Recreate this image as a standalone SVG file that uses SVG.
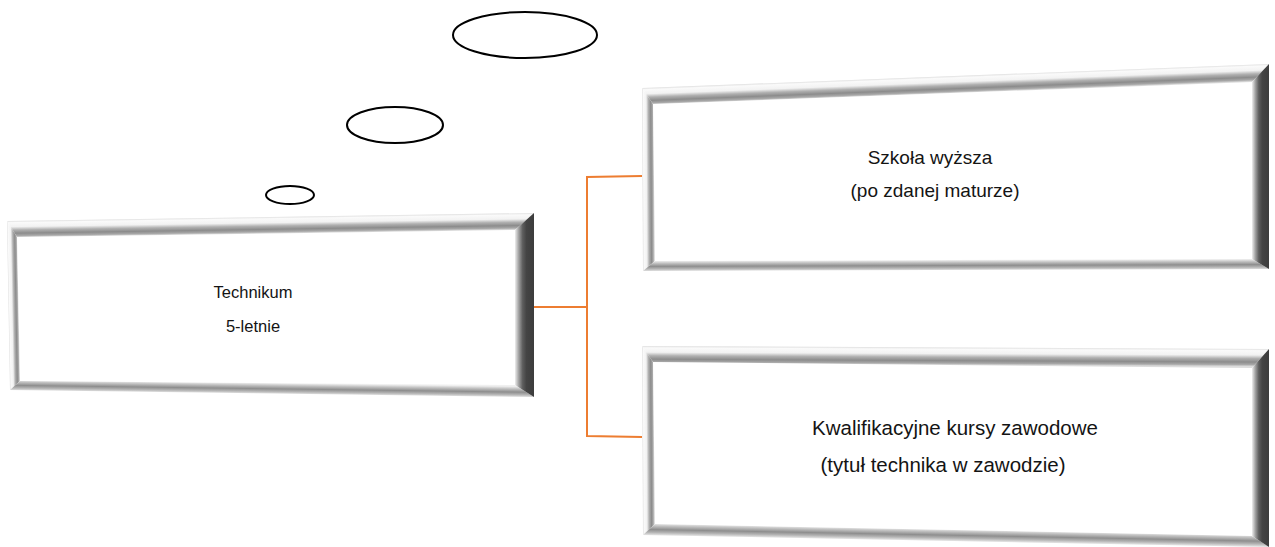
<svg xmlns="http://www.w3.org/2000/svg" xmlns:xlink="http://www.w3.org/1999/xlink" width="1275" height="547" viewBox="0 0 1275 547">
<style>
.lbl{font-family:"Liberation Sans","Noto Sans",Arial,sans-serif;fill:#141414;text-anchor:middle}
.inner{fill:#ffffff}
.conn{fill:none;stroke:#ED7D31;stroke-width:2}
.bubble{fill:#ffffff;stroke:#000000;stroke-width:2}
</style>
<defs>
<linearGradient id="gTL">
<stop offset="0" stop-color="#e0e0e0"/><stop offset="0.1" stop-color="#fafafa"/><stop offset="0.35" stop-color="#f2f2f2"/><stop offset="0.55" stop-color="#b0b0b0"/><stop offset="0.75" stop-color="#8c8c8c"/><stop offset="0.9" stop-color="#a8a8a8"/><stop offset="1" stop-color="#dcdcdc"/>
</linearGradient>
<linearGradient id="gB">
<stop offset="0" stop-color="#dddddd"/><stop offset="0.2" stop-color="#b4b4b4"/><stop offset="0.45" stop-color="#8e8e8e"/><stop offset="0.75" stop-color="#c0c0c0"/><stop offset="1" stop-color="#f0f0f0"/>
</linearGradient>
<linearGradient id="gR">
<stop offset="0" stop-color="#3c3c3c"/><stop offset="0.4" stop-color="#444444"/><stop offset="0.6" stop-color="#5e5e5e"/><stop offset="0.8" stop-color="#a0a0a0"/><stop offset="1" stop-color="#eeeeee"/>
</linearGradient>
<linearGradient id="aT" xlink:href="#gTL" gradientUnits="userSpaceOnUse" x1="270.5" y1="217" x2="270.75" y2="233.4"/>
<linearGradient id="aL" xlink:href="#gTL" gradientUnits="userSpaceOnUse" x1="8.5" y1="305.5" x2="18.44" y2="305.32"/>
<linearGradient id="aR" xlink:href="#gR" gradientUnits="userSpaceOnUse" x1="534" y1="305" x2="515" y2="305"/>
<linearGradient id="aB" xlink:href="#gB" gradientUnits="userSpaceOnUse" x1="272" y1="393.5" x2="272.14" y2="383.06"/>
<linearGradient id="bT" xlink:href="#gTL" gradientUnits="userSpaceOnUse" x1="955.5" y1="76" x2="956.15" y2="92.9"/>
<linearGradient id="bL" xlink:href="#gTL" gradientUnits="userSpaceOnUse" x1="642.5" y1="179.5" x2="653.98" y2="179.44"/>
<linearGradient id="bR" xlink:href="#gR" gradientUnits="userSpaceOnUse" x1="1269" y1="166" x2="1252" y2="166"/>
<linearGradient id="bB" xlink:href="#gB" gradientUnits="userSpaceOnUse" x1="956" y1="270" x2="955.97" y2="260"/>
<linearGradient id="cT" xlink:href="#gTL" gradientUnits="userSpaceOnUse" x1="955.5" y1="347.5" x2="955.42" y2="365"/>
<linearGradient id="cL" xlink:href="#gTL" gradientUnits="userSpaceOnUse" x1="642.5" y1="440.5" x2="654" y2="440.44"/>
<linearGradient id="cR" xlink:href="#gR" gradientUnits="userSpaceOnUse" x1="1269" y1="446" x2="1252" y2="446"/>
<linearGradient id="cB" xlink:href="#gB" gradientUnits="userSpaceOnUse" x1="956" y1="540.5" x2="956.22" y2="529"/>
</defs>
<rect width="1275" height="547" fill="#ffffff"/>

<g id="bubbles">
<ellipse class="bubble" cx="525" cy="35" rx="72" ry="23"/>
<ellipse class="bubble" cx="395" cy="125" rx="48" ry="18"/>
<ellipse class="bubble" cx="290" cy="195" rx="24" ry="9"/>
</g>

<g id="connectors">
<polyline class="conn" points="534,307 587,307"/>
<polyline class="conn" points="642,176 587,177 587,436 642,437"/>
</g>

<g id="node-technikum">
<polygon class="inner" points="17,237 515,230 515,385 20,381"/>
<polygon fill="url(#aT)" points="7,221 534,213 515,230 17,237"/>
<polygon fill="url(#aL)" points="7,221 17,237 20,381 10,390"/>
<polygon fill="url(#aB)" points="10,390 20,381 515,385 534,397"/>
<polygon fill="url(#aR)" points="534,213 534,397 515,385 515,230"/>
<text class="lbl" x="253" y="298" font-size="16.5">Technikum</text>
<text class="lbl" x="253" y="332" font-size="16.5">5-letnie</text>
</g>

<g id="node-szkola">
<polygon class="inner" points="653,104 1252,82 1252,259 655,261"/>
<polygon fill="url(#bT)" points="642,88 1269,64 1252,82 653,104"/>
<polygon fill="url(#bL)" points="642,88 653,104 655,261 643,271"/>
<polygon fill="url(#bB)" points="643,271 655,261 1252,259 1269,269"/>
<polygon fill="url(#bR)" points="1269,64 1269,269 1252,259 1252,82"/>
<text class="lbl" x="930" y="164" font-size="19">Szkoła wyższa</text>
<text class="lbl" x="935" y="197" font-size="19">(po zdanej maturze)</text>
</g>

<g id="node-kursy">
<polygon class="inner" points="653,362 1252,368 1252,536 655,524"/>
<polygon fill="url(#cT)" points="642,346 1269,349 1252,368 653,362"/>
<polygon fill="url(#cL)" points="642,346 653,362 655,524 643,535"/>
<polygon fill="url(#cB)" points="643,535 655,524 1252,536 1269,547"/>
<polygon fill="url(#cR)" points="1269,349 1269,547 1252,536 1252,368"/>
<text class="lbl" x="955" y="435" font-size="20.5">Kwalifikacyjne kursy zawodowe</text>
<text class="lbl" x="943" y="472" font-size="20.5">(tytuł technika w zawodzie)</text>
</g>
</svg>
